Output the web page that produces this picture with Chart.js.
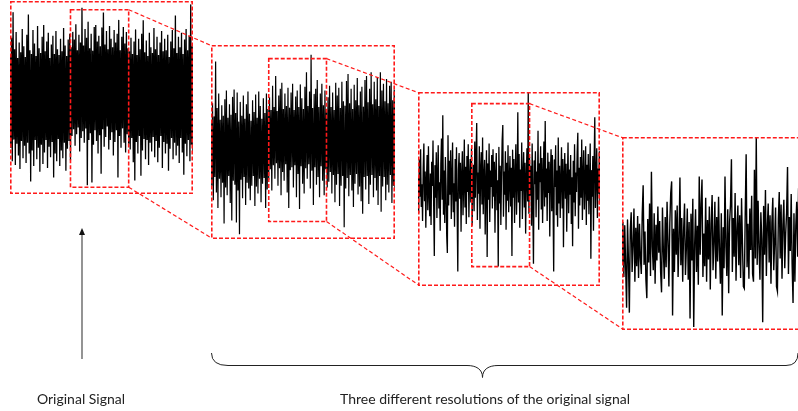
<!DOCTYPE html>
<html>
<head>
<meta charset="utf-8">
<script src="https://cdn.jsdelivr.net/npm/chart.js@4.4.1/dist/chart.umd.min.js"></script>
<style>
  body { margin: 0; width: 798px; height: 411px; overflow: hidden; position: relative; background: #fff; }
  .panel { position: absolute; }
  #overlay { position: absolute; left: 0; top: 0; pointer-events: none; }
  .label { position: absolute; width: 400px; text-align: center; font: 14px Lato, "Open Sans", sans-serif; line-height: 14px; color: #222; white-space: nowrap; }
</style>
</head>
<body>
<canvas id="overlay" width="798" height="411"></canvas>
<div class="label" style="left:-119px; top:392px;">Original Signal</div>
<div class="label" style="left:285px; top:392px;">Three different resolutions of the original signal</div>
<script>
// original signal, dense: samples alternate between upper and lower excursions
const signal1 = [
  44,-52, 62,-66, 88,-43, 50,-70, 68,-48, 41,-60, 57,-74, 47,-45, 71,-63, 53,-50,
  42,-68, 65,-47, 86,-58, 49,-87, 45,-55, 70,-71, 56,-44, 43,-64, 74,-52, 51,-77,
  46,-49, 63,-69, 75,-57, 48,-44, 58,-73, 67,-51, 41,-62, 55,-46, 64,-83, 45,-58,
  69,-66, 50,-43, 44,-71, 61,-55, 48,-63, 72,-47, 54,-76, 43,-53, 60,-45, 66,-65,
  52,-40, 68,-33, 60,-50, 76,-38, 49,-31, 65,-56, 57,-42, 93,-35, 54,-47, 71,-32,
  62,-91, 78,-44, 51,-37, 66,-88, 48,-49, 73,-34, 75,-45, 58,-58, 64,-39, 53,-79,
  72,-33, 88,-51, 55,-41, 69,-30, 50,-54, 74,-44, 61,-36, 52,-60, 70,-46, 57,-34,
  66,-83, 80,-40, 49,-52, 63,-32, 73,-47, 56,-57, 68,-38, 51,-48, 48,-54, 62,-42,
  45,-67, 58,-86, 70,-46, 44,-58, 61,-40, 50,-81, 66,-55, 80,-43, 47,-64, 59,-44,
  43,-70, 67,-47, 52,-56, 46,-41, 72,-62, 50,-45, 63,-67, 44,-52, 57,-40, 69,-73,
  48,-46, 61,-58, 49,-48, 65,-76, 42,-53, 58,-42, 70,-64, 51,-47, 85,-60, 46,-50,
  63,-68, 52,-42, 67,-57, 45,-80, 60,-48, 71,-61, 49,-44, 64,-66, 96,-49, 53,-58
];

// first resolution
const signal2 = [
  22,-45, 40,-60, 26,-36, 83,-52, 35,-68, 50,-38, 23,-57, 38,-42, 27,-84, 44,-47,
  53,-55, 25,-35, 39,-63, 28,-81, 46,-40, 54,-44, 30,-83, 51,-50, 21,-95, 41,-39,
  27,-58, 48,-36, 24,-65, 39,-42, 52,-48, 29,-60, 22,-45, 43,-35, 31,-66, 49,-46,
  25,-53, 52,-38, 37,-62, 24,-43, 45,-37, 30,-68, 50,-49, 34,-39, 46,-28, 33,-50,
  58,-24, 36,-38, 68,-22, 32,-45, 48,-27, 55,-55, 61,-31, 34,-40, 50,-23, 37,-52,
  56,-68, 35,-29, 51,-26, 60,-47, 33,-24, 47,-57, 53,-33, 36,-69, 59,-25, 45,-43,
  34,-53, 57,-27, 72,-38, 37,-23, 52,-48, 90,-29, 35,-65, 49,-26, 55,-44, 64,-36,
  36,-57, 50,-25, 60,-40, 38,-55, 53,-28, 34,-47, 46,-41, 58,-31, 36,-53, 51,-34,
  33,-62, 61,-44, 48,-33, 56,-66, 35,-45, 62,-35, 42,-88, 37,-48, 63,-37, 70,-56,
  40,-34, 55,-50, 34,-67, 59,-43, 43,-33, 66,-54, 38,-46, 52,-61, 57,-74, 36,-36,
  64,-49, 68,-35, 41,-64, 55,-44, 72,-34, 39,-57, 62,-37, 44,-50, 67,-65, 37,-35,
  72,-72, 53,-46, 60,-36, 42,-60, 65,-44, 40,-52, 58,-34, 62,-63, 43,-45, 54,-50
];

// second resolution
const signal3 = [
  12,-25,30,-8,41,-18,5,-33,22,47,-12,18,-40,9,35,-22,44,-5,-28,16,
  -37,28,3,50,-15,-69,24,-9,38,-30,14,45,-20,7,-43,26,52,-11,76,-26,
  19,-35,33,2,-48,-66,55,-17,29,-6,40,-31,11,48,-24,6,-39,31,-13,43,
  -21,-85,20,37,-10,27,-44,15,39,-27,4,51,-19,23,-36,34,-3,46,-29,10,
  31,-14,42,-38,8,25,-23,49,-9,36,68,-32,17,-5,44,-41,21,38,-16,53,
  -26,13,30,-47,6,40,-70,26,-11,47,-34,19,2,35,-20,41,-8,28,-45,16,
  37,-22,9,-80,43,-15,24,-37,12,50,66,-28,18,-6,39,-42,27,-12,45,-24,
  8,34,-18,22,-69,40,-9,31,-35,14,46,-26,3,79,-14,36,-40,20,-2,48,
  -31,15,38,-19,27,-46,11,42,-13,100,-25,33,-7,24,-38,47,-16,-77,29,5,
  39,-29,18,-11,60,-42,26,7,44,-21,32,-35,13,49,-18,70,-8,21,-33,37,
  -4,28,-49,16,41,-23,35,-12,-85,30,2,45,-27,19,-39,53,-15,24,-30,10,
  43,-20,31,-60,14,37,-10,26,-44,8,48,-25,20,-6,35,-36,12,-59,29,-14,
  46,-28,17,-3,38,58,-41,22,-17,33,-9,51,-32,15,40,-21,6,44,-37,25,
  -12,36,-26,9,47,-72,19,-8,34,-43,27,74,-19,12,42,-30,21,-5,39,-16
];

// third resolution
const signal4 = [
  -30,12,-45,8,-36,-77,14,-28,-82,4,22,-40,-12,26,-50,6,-34,18,-46,10,
  -25,-42,20,50,-32,2,-48,-67,15,-30,31,-44,64,-14,-38,21,-52,9,-28,28,
  -20,13,-40,-61,27,-18,-47,17,-35,33,-8,-55,11,42,54,-85,5,-40,24,-22,
  29,-45,-6,58,-33,16,-50,3,31,-43,-15,26,-48,12,-88,20,-28,36,-97,-12,
  25,-40,8,-53,59,-22,30,56,-45,0,-34,37,-50,14,-27,28,-58,10,40,-38,
  -9,33,-47,17,-29,38,-18,-52,21,-85,6,-36,59,-13,-44,25,-62,12,30,77,
  -40,16,-24,42,-49,4,29,-33,19,-46,36,-11,-55,-57,20,82,-35,10,-47,26,
  -17,39,-42,-50,66,-26,99,-32,34,-15,-48,22,-6,-92,28,-22,45,-44,7,31,
  -30,19,-52,11,37,-38,-9,27,-55,-60,15,43,-26,30,-47,9,35,-36,0,22,
  69,-42,17,-18,41,-32,-72,21,-50,8,33,-24,47,-40,13,-11,26,-45,16,-28
];

// part of each signal that is enlarged in the next panel (sample index, amplitude)
const zoomWindows = [
  { from: 79, to: 155, top: 91, bottom: -93 },
  { from: 75, to: 150, top: 86, bottom: -82 },
  { from: 82.5, to: 171, top: 88, bottom: -80 },
  null
];

const signals = [signal1, signal2, signal3, signal4];
const lineWidths = [1.3, 1.2, 1.3, 1.4];

const panels = [
  { left: 10, top: 1, width: 183, height: 193 },
  { left: 211, top: 45, width: 184, height: 194 },
  { left: 418, top: 92, width: 182, height: 194 },
  { left: 622, top: 137, width: 183, height: 193 }
];

const boxPlugin = {
  id: 'zoomBox',
  afterDatasetsDraw(chart, args, opts) {
    const { ctx, chartArea: a, scales: { x, y } } = chart;
    ctx.save();
    ctx.strokeStyle = '#ff1a1a';
    ctx.lineWidth = 1.6;
    ctx.setLineDash([4, 2]);
    ctx.strokeRect(a.left + 0.8, a.top + 0.8, a.right - a.left - 1.6, a.bottom - a.top - 1.6);
    const w = opts.window;
    if (w) {
      const x0 = x.getPixelForValue(w.from), x1 = x.getPixelForValue(w.to);
      const y0 = y.getPixelForValue(w.top), y1 = y.getPixelForValue(w.bottom);
      ctx.strokeRect(x0, y0, x1 - x0, y1 - y0);
    }
    ctx.restore();
  }
};

const charts = signals.map((sig, i) => {
  const p = panels[i];
  const canvas = document.createElement('canvas');
  canvas.className = 'panel';
  canvas.width = p.width;
  canvas.height = p.height;
  canvas.style.left = p.left + 'px';
  canvas.style.top = p.top + 'px';
  canvas.style.width = p.width + 'px';
  canvas.style.height = p.height + 'px';
  document.body.insertBefore(canvas, document.getElementById('overlay'));
  return new Chart(canvas.getContext('2d'), {
    type: 'line',
    data: {
      labels: sig.map((_, k) => k),
      // a tiny tension keeps Chart.js off its per-pixel fast path so every sample is stroked
      datasets: [{ data: sig, borderColor: '#000', borderWidth: lineWidths[i], pointRadius: 0, tension: 0.001, fill: false }]
    },
    options: {
      responsive: false,
      animation: false,
      events: [],
      devicePixelRatio: 1,
      layout: { padding: 0 },
      plugins: { legend: { display: false }, tooltip: { enabled: false }, zoomBox: { window: zoomWindows[i] } },
      scales: {
        x: { display: false },
        y: { display: false, min: -100, max: 100 }
      }
    },
    plugins: [boxPlugin]
  });
});

// connectors, arrow and brace
const ov = document.getElementById('overlay').getContext('2d');
ov.save();
ov.strokeStyle = '#ff1a1a';
ov.lineWidth = 1.2;
ov.setLineDash([4, 2.5]);
for (let k = 0; k < 3; k++) {
  const w = zoomWindows[k];
  const c = charts[k], n = charts[k + 1];
  const xr = panels[k].left + c.scales.x.getPixelForValue(w.to);
  const yt = panels[k].top + c.scales.y.getPixelForValue(w.top);
  const yb = panels[k].top + c.scales.y.getPixelForValue(w.bottom);
  const nl = panels[k + 1].left + n.chartArea.left + 0.8;
  const nt = panels[k + 1].top + n.chartArea.top + 0.8;
  const nb = panels[k + 1].top + n.chartArea.bottom - 0.8;
  ov.beginPath();
  ov.moveTo(xr, yt); ov.lineTo(nl, nt);
  ov.moveTo(xr, yb); ov.lineTo(nl, nb);
  ov.stroke();
}
ov.restore();

// arrow
ov.strokeStyle = '#5a5a5a';
ov.lineWidth = 1.3;
ov.beginPath();
ov.moveTo(82, 359);
ov.lineTo(82, 233);
ov.stroke();
ov.fillStyle = '#111';
ov.beginPath();
ov.moveTo(82, 228);
ov.lineTo(85, 235);
ov.lineTo(79, 235);
ov.closePath();
ov.fill();

// brace
ov.strokeStyle = '#222';
ov.lineWidth = 1;
ov.beginPath();
ov.moveTo(211.5, 353);
ov.quadraticCurveTo(211.5, 365.5, 228, 365.5);
ov.lineTo(467, 365.5);
ov.bezierCurveTo(476, 365.5, 482.5, 369, 482.5, 377.5);
ov.bezierCurveTo(482.5, 369, 489, 365.5, 498, 365.5);
ov.lineTo(786, 365.5);
ov.quadraticCurveTo(798, 365.5, 798, 353);
ov.stroke();
</script>
</body>
</html>
